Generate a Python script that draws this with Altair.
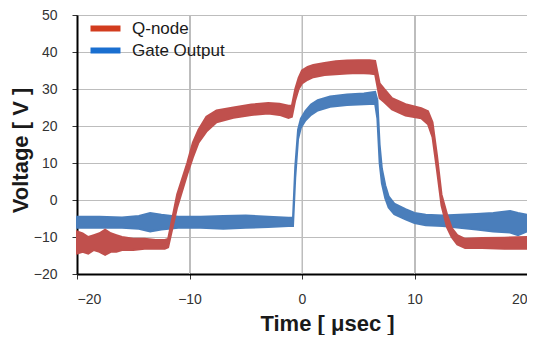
import altair as alt
import pandas as pd

# Q-node trace: time (usec), lower and upper edge of the noisy band (V)
q_t = [-20, -19.5, -19, -18.5, -18, -17.5, -17, -16.5, -16, -15, -14, -13, -12.2, -11.9,
       -11.1, -10.2, -9.7, -9.2, -8.5, -7.6, -6.1, -4.5, -3, -2, -1.2, -0.9, -0.6, -0.3,
       0, 0.5, 1, 2, 3, 4, 5, 6, 6.5, 6.9, 7.3, 8, 9.2, 10.6, 11.2, 11.6, 12.0, 12.4,
       12.9, 13.3, 13.8, 14.5, 16, 18, 20]
q_lo = [-14.5, -14, -14.5, -13.5, -14, -14.8, -14, -14, -13.5, -13.5, -13.2, -13.2, -13.2, -12.8,
        -2, 7, 11.5, 15.5, 18.5, 21, 22.2, 23, 23.4, 23, 22.2, 22.5, 27, 30,
        31.5, 32.5, 33.2, 33.8, 34, 34.2, 34.3, 34.2, 34, 27.5, 26.5, 24.5, 22.8, 22.1, 20.5, 17, 8, -1.5,
        -7.5, -10, -12, -13, -13, -13.2, -13.2]
q_hi = [-8.5, -9, -10, -9.5, -9, -8, -9, -9.5, -10, -10.5, -10.5, -10.8, -10.8, -10.5,
        1.5, 10, 15.5, 19, 22.5, 24.2, 25, 25.8, 26.2, 26, 25.5, 25.5, 30, 33,
        35, 36, 36.5, 37, 37.5, 37.7, 37.8, 37.8, 37.6, 31.5, 30, 27.5, 25.9, 24.8, 24, 21, 12, 1.5,
        -4, -7.5, -9.5, -10.5, -10.3, -10.2, -10]

# Gate Output trace
g_t = [-20, -18, -16, -14.5, -13.5, -12.5, -11, -9, -7, -5, -3, -1.2, -0.8, -0.6, -0.35, -0.1,
       0.3, 0.8, 1.4, 2.5, 4, 5.5, 6.5, 6.7, 6.9, 7.1, 7.4, 7.7, 8.2, 9.2, 10, 11, 12.5, 14,
       15.5, 17, 18.5, 19.2, 20]
g_lo = [-7.5, -7.5, -7.5, -7.8, -8.5, -8, -7.5, -7.5, -7.8, -7.5, -7.3, -7, -7, 6, 16.5, 19.5,
        21.5, 23, 24.2, 25.2, 25.7, 25.9, 26, 22, 10, 4.5, 0.5, -2, -3.8, -5.2, -6.2, -6.8, -7, -7.5,
        -8, -8.5, -8.8, -9.5, -8.5]
g_hi = [-4.5, -4.5, -4.7, -4.3, -3.5, -4, -4.5, -4.5, -4.3, -4.2, -4.5, -4.8, -4.8, 9, 19, 22,
        24, 25.8, 27, 28, 28.5, 28.8, 29.2, 27, 15, 8.5, 4, 1, -1, -2.5, -3.5, -4, -4.2, -4,
        -3.8, -3.5, -3, -3.5, -4]

x_ticks = [-20, -10, 0, 10, 20]
y_ticks = [-20, -10, 0, 10, 20, 30, 40, 50]

series = ["Q-node", "Gate Output"]
trace_colors = ["#C0504D", "#4A7EBB"]
legend_colors = ["#D23C1E", "#1A6FD0"]

q_df = pd.DataFrame({"t": q_t, "lo": q_lo, "hi": q_hi, "series": series[0]})
g_df = pd.DataFrame({"t": g_t, "lo": g_lo, "hi": g_hi, "series": series[1]})
all_df = pd.concat([g_df, q_df], ignore_index=True)
grid_df = pd.DataFrame({"t": x_ticks[1:-1]})

FONT = "Liberation Sans"
GRID = "#BDBDBD"

x_enc = alt.X("t:Q", scale=alt.Scale(domain=[-20, 20], nice=False),
              axis=alt.Axis(values=x_ticks, title="Time [ μsec ]", grid=True, labelOverlap=False,
                            titleFontSize=22, titleFontWeight="bold", titleColor="#1a1a1a",
                            titleX=250, titleY=49, titleBaseline="middle", titleAlign="center",
                            labelFontSize=14, labelColor="#333333", labelPadding=13,
                            tickSize=5, tickColor="#333333",
                            domainColor="#000000", domainWidth=2,
                            gridColor=GRID, gridWidth=1))
y_enc = alt.Y("lo:Q", scale=alt.Scale(domain=[-20, 50], nice=False),
              axis=alt.Axis(values=y_ticks, title="Voltage [ V ]", grid=True, labelOverlap=False,
                            titleFontSize=22, titleFontWeight="bold", titleColor="#1a1a1a",
                            titleX=-57, titleY=135, titleBaseline="middle", titleAlign="center",
                            labelFontSize=14, labelColor="#333333", labelPadding=15,
                            tickSize=5, tickColor="#333333",
                            domainColor="#000000", domainWidth=2,
                            gridColor=GRID, gridWidth=1))

vgrid = alt.Chart(grid_df).mark_rule(color=GRID, strokeWidth=1).encode(x=x_enc)

blue = alt.Chart(g_df).mark_area(color=trace_colors[1], stroke=trace_colors[1],
                                 strokeWidth=2, opacity=1).encode(
    x=x_enc, y=y_enc, y2="hi:Q")
red = alt.Chart(q_df).mark_area(color=trace_colors[0], stroke=trace_colors[0],
                                strokeWidth=2, opacity=1).encode(
    x=x_enc, y=y_enc, y2="hi:Q")

legend_layer = alt.Chart(all_df).mark_square(opacity=0).encode(
    x=x_enc, y=y_enc,
    color=alt.Color("series:N",
                    scale=alt.Scale(domain=series, range=legend_colors),
                    legend=alt.Legend(title=None, orient="none", legendX=20, legendY=5,
                                      symbolType="M-3,-0.6H3V0.6H-3Z", symbolSize=100,
                                      symbolOpacity=1, symbolStrokeWidth=0,
                                      labelFontSize=17, labelFont=FONT, labelColor="#1a1a1a",
                                      labelOffset=18, rowPadding=4, padding=0)))

chart = alt.layer(vgrid, blue, red, legend_layer).properties(
    width=450, height=259, autosize="none",
    padding={"left": 69, "top": 7, "right": 0, "bottom": 61},
).configure(font=FONT).configure_view(stroke=GRID, strokeWidth=1)

chart.save("out.html", embed_options={"renderer": "svg", "actions": False})
